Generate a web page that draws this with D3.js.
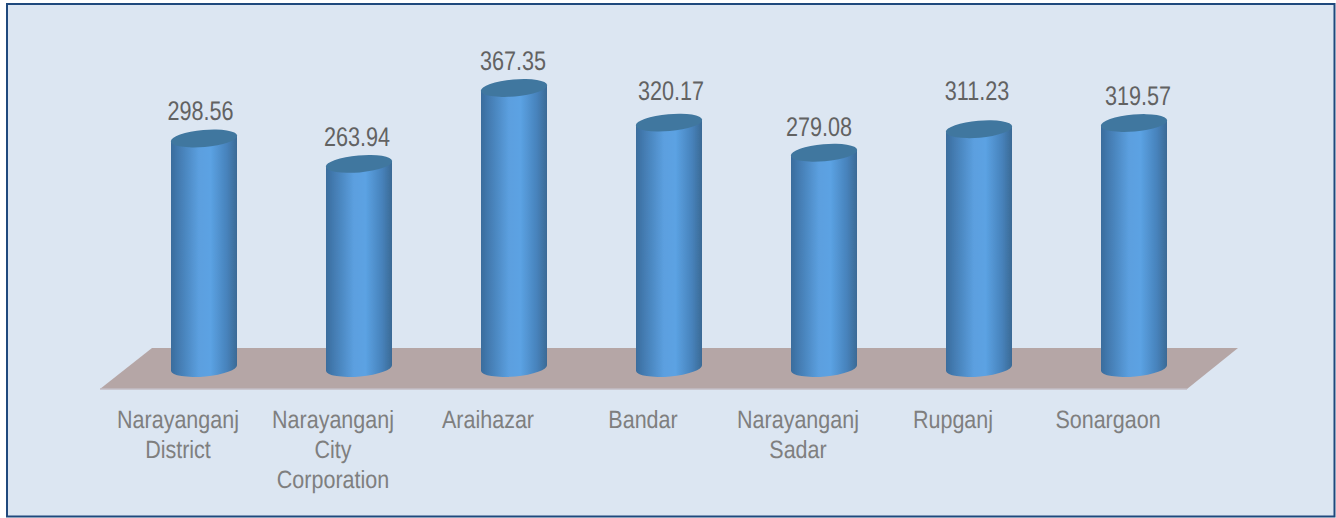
<!DOCTYPE html>
<html lang="en">
<head>
  <meta charset="UTF-8">
  <title>Narayanganj</title>
  <script src="https://d3js.org/d3.v7.min.js"></script>
  <style>
    html, body { margin: 0; padding: 0; background: #fff; overflow: hidden; }
    svg { display: block; }
    text { font-family: "Liberation Sans", Arial, sans-serif; text-rendering: geometricPrecision; }
    .value { fill: #626262; }
    .label { fill: #7f7f7f; }
  </style>
</head>
<body>
  <svg width="1336" height="518"></svg>
  <script>
    const categories = [
      ["Narayanganj", "District"],
      ["Narayanganj", "City", "Corporation"],
      ["Araihazar"],
      ["Bandar"],
      ["Narayanganj", "Sadar"],
      ["Rupganj"],
      ["Sonargaon"]
    ];
    const values = [298.56, 263.94, 367.35, 320.17, 279.08, 311.23, 319.57];

    // the value labels were placed by hand in the original
    const nudgeX = [-3.5, -2, -1, 2, -5, -2, 4];
    const nudgeY = [0, 0, 0, -5, 1, -11, 0];

    const svg = d3.select("svg");
    const ids = categories.map((d, i) => i);

    const x = d3.scaleBand().domain(ids).range([126.5, 1211.5]);
    const y = d3.scaleLinear().domain([-14, 400]).range([368, 64]);
    const cx = i => x(i) + x.bandwidth() / 2;

    const rx = 33, ry = 8.5, tilt = -5;
    const dy = 3; // rim height difference from the tilt

    // panel
    svg.append("rect")
      .attr("x", 7).attr("y", 4)
      .attr("width", 1327.5).attr("height", 512.5)
      .attr("fill", "#dce6f2")
      .attr("stroke", "#1f497d")
      .attr("stroke-width", 2);

    const defs = svg.append("defs");
    const grad = defs.append("linearGradient").attr("id", "cyl");
    grad.selectAll("stop")
      .data([[0, "#3a6c9c"], [0.1, "#4279ae"], [0.42, "#5b9fdf"], [0.6, "#5ba2e3"], [0.85, "#4782bb"], [1, "#3a6a95"]])
      .enter().append("stop")
      .attr("offset", d => d[0])
      .attr("stop-color", d => d[1]);
    defs.append("filter").attr("id", "soft")
      .append("feGaussianBlur").attr("stdDeviation", 0.7);

    // floor
    svg.append("path")
      .attr("d", "M152,348 L1238,348 L1187,389 L100,389 Z")
      .attr("fill", "#b5a6a6");
    svg.append("path")
      .attr("d", "M100,389 L1187,389")
      .attr("stroke", "#c3bcc4")
      .attr("stroke-width", 1.5);

    // cylinders
    const bars = svg.selectAll(".bar")
      .data(ids)
      .enter().append("g")
      .attr("class", "bar")
      .attr("filter", "url(#soft)");

    const yBase = y(-14);
    bars.append("path")
      .attr("fill", "url(#cyl)")
      .attr("d", i => {
        const c = cx(i), t = y(values[i]);
        return `M${c - rx},${t + dy} L${c + rx},${t - dy} L${c + rx},${yBase - dy}`
          + ` A${rx},${ry} ${tilt} 0 1 ${c - rx},${yBase + dy} Z`;
      });

    bars.append("ellipse")
      .attr("rx", rx + 0.3)
      .attr("ry", ry)
      .attr("fill", "#41779f")
      .attr("transform", i => `translate(${cx(i)},${y(values[i])}) rotate(${tilt})`);

    // value labels
    svg.selectAll(".value")
      .data(ids)
      .enter().append("text")
      .attr("class", "value")
      .attr("text-anchor", "middle")
      .attr("font-size", 27)
      .attr("transform", i => `translate(${cx(i) + nudgeX[i]},${y(values[i]) - 18 + nudgeY[i]}) scale(0.8,1)`)
      .text(i => values[i].toFixed(2));

    // category labels
    const labels = svg.selectAll(".label")
      .data(ids)
      .enter().append("text")
      .attr("class", "label")
      .attr("text-anchor", "middle")
      .attr("font-size", 25)
      .attr("transform", i => `translate(${cx(i) - 26},428) scale(0.86,1)`);

    labels.selectAll("tspan")
      .data(i => categories[i])
      .enter().append("tspan")
      .attr("x", 0)
      .attr("y", (d, j) => j * 30)
      .text(d => d);
  </script>
</body>
</html>
